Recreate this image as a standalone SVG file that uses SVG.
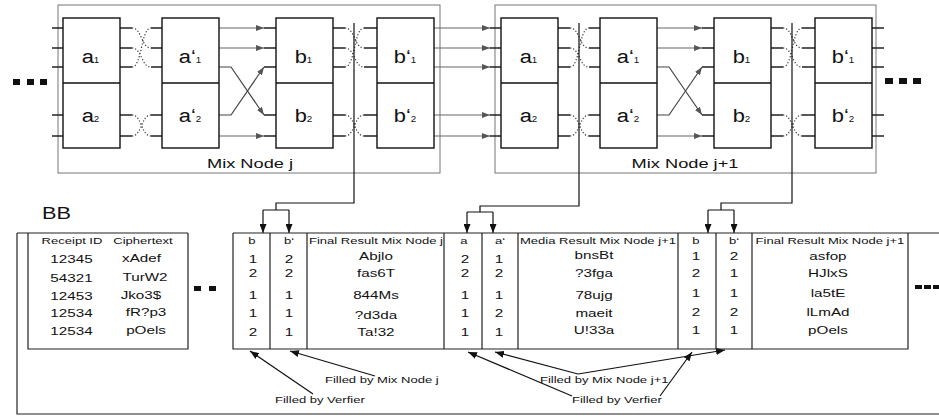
<svg xmlns="http://www.w3.org/2000/svg" width="939" height="416" viewBox="0 0 939 416">
<style>
text{font-family:"Liberation Sans",Arial,sans-serif;fill:#111}
.box{fill:#fff;stroke:#111;stroke-width:1.4}
.frame{fill:none;stroke:#777;stroke-width:1}
.stub{stroke:#222;stroke-width:1.3;fill:none}
.gw{stroke:#666;stroke-width:1.2;fill:none}
.dw{stroke:#444;stroke-width:1.2;fill:none}
.dot{stroke:#333;stroke-width:1.2;stroke-dasharray:1.2 2;fill:none}
.blk{stroke:#111;stroke-width:1.2;fill:none}
.tbl{stroke:#222;stroke-width:1.2;fill:none}
.bl{font-size:19px}
.sub{font-size:8.5px}
.hd{font-size:9px}
.dt{font-size:10.5px}
.ml{font-size:12px}
.sq{fill:#111}
</style>
<defs>
<marker id="mg" viewBox="0 0 8 6" refX="8" refY="3" markerWidth="8" markerHeight="6" markerUnits="userSpaceOnUse" orient="auto"><path d="M0,0L8,3L0,6z" fill="#555"/></marker>
<marker id="mk" viewBox="0 0 9 7" refX="9" refY="3.5" markerWidth="9" markerHeight="7" markerUnits="userSpaceOnUse" orient="auto"><path d="M0,0L9,3.5L0,7z" fill="#111"/></marker>
<g id="perm">
<path class="stub" d="M0,28H12M0,48H12M0,67H12M0,115H12M0,136H12M31,28H45M31,48H45M31,67H45M31,115H45M31,136H45"/>
<path class="dot" d="M12,28C22,28 21,48 31,48M12,48C22,48 21,67 31,67M12,67C22,67 21,28 31,28M12,115C22,115 21,136 31,136M12,136C22,136 21,115 31,115"/>
</g>
<g id="mid">
<path class="gw" d="M0,28H45" marker-end="url(#mg)"/>
<path class="gw" d="M0,48H45" marker-end="url(#mg)"/>
<path class="dw" d="M0,67H12L45,115" marker-end="url(#mg)"/>
<path class="dw" d="M0,115H12L45,67" marker-end="url(#mg)"/>
<path class="gw" d="M0,136H45" marker-end="url(#mg)"/>
<path class="stub" d="M45,28H57M45,48H57M45,67H57M45,115H57M45,136H57"/>
</g>
</defs>

<g id="mixnode-j">
<rect class="frame" x="58" y="5" width="382" height="168"/>
<text class="ml" text-anchor="middle" transform="matrix(1.52,0,0,1,250,168)">Mix Node j</text>
</g>
<g id="mixnode-j1">
<rect class="frame" x="495" y="5" width="381" height="168"/>
<text class="ml" text-anchor="middle" transform="matrix(1.52,0,0,1,685,168)">Mix Node j+1</text>
</g>

<g id="ellipsis">
<rect class="sq" x="13" y="79" width="7" height="6"/><rect class="sq" x="27" y="79" width="7" height="6"/><rect class="sq" x="40" y="79" width="7" height="6"/>
<rect class="sq" x="885" y="78" width="8" height="6"/><rect class="sq" x="899" y="78" width="8" height="6"/><rect class="sq" x="913" y="78" width="8" height="6"/>
<rect class="sq" x="194" y="286" width="7" height="5"/><rect class="sq" x="209" y="286" width="7" height="5"/>
<rect class="sq" x="915" y="285" width="7" height="4"/><rect class="sq" x="924" y="285" width="7" height="4"/><rect class="sq" x="933" y="285" width="6" height="4"/>
</g>

<g id="connectors">
<path class="stub" d="M52,28H63M52,48H63M52,67H63M52,115H63M52,136H63"/>
<use href="#perm" x="120"/>
<use href="#mid" x="219"/>
<use href="#perm" x="333"/>
<path class="gw" d="M434,28H490" marker-end="url(#mg)"/>
<path class="gw" d="M434,48H490" marker-end="url(#mg)"/>
<path class="gw" d="M434,67H490" marker-end="url(#mg)"/>
<path class="gw" d="M434,115H490" marker-end="url(#mg)"/>
<path class="gw" d="M434,136H490" marker-end="url(#mg)"/>
<path class="stub" d="M490,28H501M490,48H501M490,67H501M490,115H501M490,136H501"/>
<use href="#perm" x="558"/>
<use href="#mid" x="657"/>
<use href="#perm" x="771"/>
<path class="stub" d="M872,28H884M872,48H884M872,67H884M872,115H884M872,136H884"/>
<path class="blk" d="M354,23V203H276V210M263,210H289"/>
<path class="blk" d="M263,210V233" marker-end="url(#mk)"/>
<path class="blk" d="M289,210V233" marker-end="url(#mk)"/>
<path class="blk" d="M579,23V206H480V212M467,212H493"/>
<path class="blk" d="M467,212V233" marker-end="url(#mk)"/>
<path class="blk" d="M493,212V233" marker-end="url(#mk)"/>
<path class="blk" d="M792,23V203H721V210M708,210H734"/>
<path class="blk" d="M708,210V233" marker-end="url(#mk)"/>
<path class="blk" d="M734,210V233" marker-end="url(#mk)"/>
<path class="blk" d="M313,394L250,351" marker-end="url(#mk)"/>
<path class="blk" d="M375,376L290,351" marker-end="url(#mk)"/>
<path class="blk" d="M572,396L468,352" marker-end="url(#mk)"/>
<path class="blk" d="M660,396L692,352" marker-end="url(#mk)"/>
<path class="blk" d="M578,374L495,352" marker-end="url(#mk)"/>
<path class="blk" d="M578,374L725,350" marker-end="url(#mk)"/>
</g>

<g id="box-a-j">
<rect class="box" x="63" y="18" width="57" height="130"/><line class="box" x1="63" y1="83" x2="120" y2="83"/>
<text class="bl" text-anchor="middle" transform="matrix(1.15,0,0,1,90.5,63)">a<tspan class="sub">1</tspan></text>
<text class="bl" text-anchor="middle" transform="matrix(1.15,0,0,1,90.5,122)">a<tspan class="sub">2</tspan></text>
</g>
<g id="box-a2-j">
<rect class="box" x="162" y="18" width="57" height="130"/><line class="box" x1="162" y1="83" x2="219" y2="83"/>
<text class="bl" text-anchor="middle" transform="matrix(1.15,0,0,1,190,63)">a‘<tspan class="sub">1</tspan></text>
<text class="bl" text-anchor="middle" transform="matrix(1.15,0,0,1,190,122)">a‘<tspan class="sub">2</tspan></text>
</g>
<g id="box-b-j">
<rect class="box" x="276" y="18" width="57" height="130"/><line class="box" x1="276" y1="83" x2="333" y2="83"/>
<text class="bl" text-anchor="middle" transform="matrix(1.15,0,0,1,303.5,63)">b<tspan class="sub">1</tspan></text>
<text class="bl" text-anchor="middle" transform="matrix(1.15,0,0,1,303.5,122)">b<tspan class="sub">2</tspan></text>
</g>
<g id="box-b2-j">
<rect class="box" x="377" y="18" width="57" height="130"/><line class="box" x1="377" y1="83" x2="434" y2="83"/>
<text class="bl" text-anchor="middle" transform="matrix(1.15,0,0,1,405,63)">b‘<tspan class="sub">1</tspan></text>
<text class="bl" text-anchor="middle" transform="matrix(1.15,0,0,1,405,122)">b‘<tspan class="sub">2</tspan></text>
</g>
<g id="box-a-j1">
<rect class="box" x="501" y="18" width="57" height="130"/><line class="box" x1="501" y1="83" x2="558" y2="83"/>
<text class="bl" text-anchor="middle" transform="matrix(1.15,0,0,1,528.5,63)">a<tspan class="sub">1</tspan></text>
<text class="bl" text-anchor="middle" transform="matrix(1.15,0,0,1,528.5,122)">a<tspan class="sub">2</tspan></text>
</g>
<g id="box-a2-j1">
<rect class="box" x="600" y="18" width="57" height="130"/><line class="box" x1="600" y1="83" x2="657" y2="83"/>
<text class="bl" text-anchor="middle" transform="matrix(1.15,0,0,1,628,63)">a‘<tspan class="sub">1</tspan></text>
<text class="bl" text-anchor="middle" transform="matrix(1.15,0,0,1,628,122)">a‘<tspan class="sub">2</tspan></text>
</g>
<g id="box-b-j1">
<rect class="box" x="714" y="18" width="57" height="130"/><line class="box" x1="714" y1="83" x2="771" y2="83"/>
<text class="bl" text-anchor="middle" transform="matrix(1.15,0,0,1,741.5,63)">b<tspan class="sub">1</tspan></text>
<text class="bl" text-anchor="middle" transform="matrix(1.15,0,0,1,741.5,122)">b<tspan class="sub">2</tspan></text>
</g>
<g id="box-b2-j1">
<rect class="box" x="815" y="18" width="57" height="130"/><line class="box" x1="815" y1="83" x2="872" y2="83"/>
<text class="bl" text-anchor="middle" transform="matrix(1.15,0,0,1,843,63)">b‘<tspan class="sub">1</tspan></text>
<text class="bl" text-anchor="middle" transform="matrix(1.15,0,0,1,843,122)">b‘<tspan class="sub">2</tspan></text>
</g>

<g id="bb">
<text font-size="17" transform="matrix(1.28,0,0,1,42,219)">BB</text>
<path class="tbl" d="M17,233V414H939M17,233H188M233,233H939"/>
<path class="tbl" d="M28,233V349H188V233"/>
<path class="tbl" d="M233,233V349H908V233M270,233V349M307,233V349M444,233V349M482,233V349M518,233V349M678,233V349M716,233V349M752,233V349"/>
<g transform="scale(1.45,1)" text-anchor="middle">
<text class="hd" x="49.66" y="244">Receipt ID</text>
<text class="hd" x="98.62" y="244">Ciphertext</text>
<text class="hd" x="173.79" y="244">b</text>
<text class="hd" x="199.31" y="244">b‘</text>
<text class="hd" x="259.31" y="244">Final Result Mix Node j</text>
<text class="hd" x="320" y="244">a</text>
<text class="hd" x="344.83" y="244">a‘</text>
<text class="hd" x="412.41" y="244">Media Result Mix Node j+1</text>
<text class="hd" x="480" y="244">b</text>
<text class="hd" x="506.21" y="244">b‘</text>
<text class="hd" x="572.41" y="244">Final Result Mix Node j+1</text>

<g class="dt">
<text x="49.31" y="263">12345</text>
<text x="49.31" y="282">54321</text>
<text x="49.31" y="300">12453</text>
<text x="49.31" y="317">12534</text>
<text x="49.31" y="335">12534</text>
<text x="97.6" y="262">xAdef</text>
<text x="100" y="281">TurW2</text>
<text x="97.2" y="299">Jko3$</text>
<text x="100.7" y="316">fR?p3</text>
<text x="100.7" y="334">pOels</text>

<text x="174.48" y="263">1</text>
<text x="174.48" y="277">2</text>
<text x="174.48" y="299">1</text>
<text x="174.48" y="317">1</text>
<text x="174.48" y="336">2</text>
<text x="199.31" y="263">2</text>
<text x="199.31" y="277">2</text>
<text x="199.31" y="299">1</text>
<text x="199.31" y="317">1</text>
<text x="199.31" y="336">1</text>

<text x="259.31" y="260">Abjlo</text>
<text x="259.31" y="277">fas6T</text>
<text x="259.31" y="299">844Ms</text>
<text x="259.31" y="319">?d3da</text>
<text x="259.31" y="336">Ta!32</text>

<text x="320.69" y="263">2</text>
<text x="320.69" y="277">2</text>
<text x="320.69" y="299">1</text>
<text x="320.69" y="317">1</text>
<text x="320.69" y="336">1</text>
<text x="344.14" y="263">1</text>
<text x="344.14" y="277">2</text>
<text x="344.14" y="299">1</text>
<text x="344.14" y="317">2</text>
<text x="344.14" y="336">1</text>

<text x="409.66" y="259">bnsBt</text>
<text x="409.66" y="277">?3fga</text>
<text x="409.66" y="299">78ujg</text>
<text x="409.66" y="317">maeit</text>
<text x="409.66" y="334">U!33a</text>

<text x="480" y="260">1</text>
<text x="480" y="277">2</text>
<text x="480" y="297">1</text>
<text x="480" y="316">2</text>
<text x="480" y="334">1</text>
<text x="506.21" y="260">2</text>
<text x="506.21" y="277">1</text>
<text x="506.21" y="297">1</text>
<text x="506.21" y="316">2</text>
<text x="506.21" y="334">1</text>

<text x="571.03" y="260">asfop</text>
<text x="571.03" y="277">HJlxS</text>
<text x="571.03" y="297">la5tE</text>
<text x="571.03" y="316">lLmAd</text>
<text x="571.03" y="334">pOels</text>
</g>

<g class="hd" text-anchor="start">
<text x="224.14" y="383">Filled by Mix Node j</text>
<text x="189.66" y="403">Filled by Verfier</text>
<text x="372.41" y="383">Filled by Mix Node j+1</text>
<text x="394.48" y="403">Filled by Verfier</text>
</g>
</g>
</g>
</svg>
